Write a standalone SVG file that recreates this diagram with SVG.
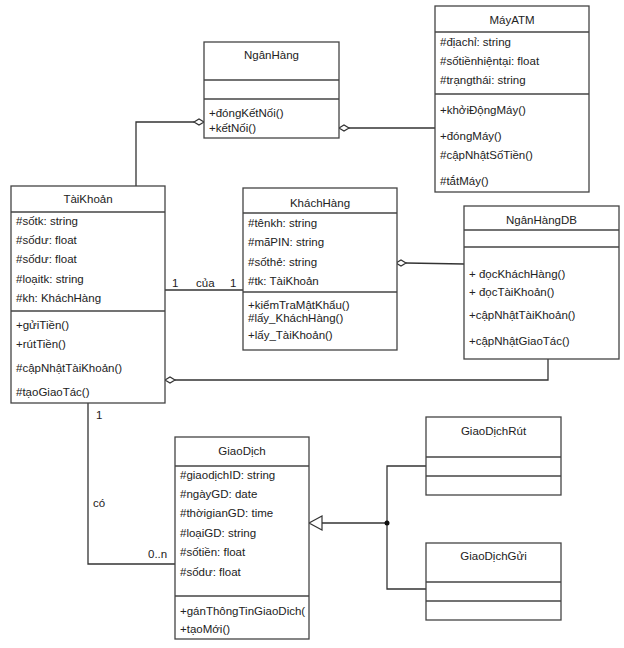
<svg xmlns="http://www.w3.org/2000/svg" width="624" height="648" viewBox="0 0 624 648">
<style>
.box{fill:#fff;stroke:#444;stroke-width:1.3}
.div{stroke:#444;stroke-width:1.3}
.t{font-family:"Liberation Sans",Arial,sans-serif;font-size:11.5px;fill:#222}
.c{text-anchor:middle}
.ln{fill:none;stroke:#333;stroke-width:1.3}
.dia{fill:#fff;stroke:#333;stroke-width:1.2}
</style>
<rect width="624" height="648" fill="#fff"/>
<g id="connectors">
  <polyline class="ln" points="194,122 136,122 136,186"/>
  <polygon class="dia" points="194,122 199,119 204,122 199,125"/>
  <line class="ln" x1="348" y1="128" x2="435" y2="128"/>
  <polygon class="dia" points="339,128 344,125 349,128 344,131"/>
  <line class="ln" x1="165" y1="290" x2="243" y2="290"/>
  <text class="t" x="172" y="287">1</text>
  <text class="t" x="196" y="287">của</text>
  <text class="t" x="230" y="287">1</text>
  <line class="ln" x1="406" y1="263" x2="464" y2="264"/>
  <polygon class="dia" points="396,263 401,260 406,263 401,266"/>
  <polyline class="ln" points="175,380 548,380 548,359"/>
  <polygon class="dia" points="165,380 170,377 175,380 170,383"/>
  <polyline class="ln" points="88,403 88,564 175,564"/>
  <text class="t" x="96" y="419">1</text>
  <text class="t" x="93" y="507">có</text>
  <text class="t" x="148" y="558">0..n</text>
  <line class="ln" x1="322" y1="523" x2="387" y2="523"/>
  <polygon class="dia" points="309,523 322,516 322,530"/>
  <polyline class="ln" points="426,466 387,466 387,589 426,589"/>
  <circle cx="387" cy="523" r="2.5" fill="#111"/>
</g>
<g id="NganHang">
  <rect class="box" x="204" y="42" width="135" height="96"/>
  <line class="div" x1="204" y1="80" x2="339" y2="80"/>
  <line class="div" x1="204" y1="99" x2="339" y2="99"/>
  <text class="t c" x="271.5" y="59">NgânHàng</text>
  <text class="t" x="209" y="117">+đóngKếtNối()</text>
  <text class="t" x="209" y="132">+kếtNối()</text>
</g>
<g id="MayATM">
  <rect class="box" x="435" y="6" width="154" height="186"/>
  <line class="div" x1="435" y1="32" x2="589" y2="32"/>
  <line class="div" x1="435" y1="94" x2="589" y2="94"/>
  <text class="t c" x="512" y="24">MáyATM</text>
  <text class="t" x="440" y="46">#địachỉ: string</text>
  <text class="t" x="440" y="65">#sốtiềnhiệntại: float</text>
  <text class="t" x="440" y="84">#trạngthái: string</text>
  <text class="t" x="440" y="114">+khởiĐộngMáy()</text>
  <text class="t" x="440" y="140">+đóngMáy()</text>
  <text class="t" x="440" y="159">#cậpNhậtSốTiền()</text>
  <text class="t" x="440" y="185">#tắtMáy()</text>
</g>
<g id="TaiKhoan">
  <rect class="box" x="11" y="186" width="154" height="217"/>
  <line class="div" x1="11" y1="212" x2="165" y2="212"/>
  <line class="div" x1="11" y1="311" x2="165" y2="311"/>
  <text class="t c" x="88" y="203">TàiKhoản</text>
  <text class="t" x="16" y="225">#sốtk: string</text>
  <text class="t" x="16" y="244">#sốdư: float</text>
  <text class="t" x="16" y="263">#sốdư: float</text>
  <text class="t" x="16" y="283">#loạitk: string</text>
  <text class="t" x="16" y="302">#kh: KháchHàng</text>
  <text class="t" x="16" y="329">+gửiTiền()</text>
  <text class="t" x="16" y="348">+rútTiền()</text>
  <text class="t" x="16" y="372">#cậpNhậtTàiKhoản()</text>
  <text class="t" x="16" y="396">#tạoGiaoTác()</text>
</g>
<g id="KhachHang">
  <rect class="box" x="243" y="188" width="154" height="162"/>
  <line class="div" x1="243" y1="213" x2="397" y2="213"/>
  <line class="div" x1="243" y1="292" x2="397" y2="292"/>
  <text class="t c" x="320" y="207">KháchHàng</text>
  <text class="t" x="248" y="227">#tênkh: string</text>
  <text class="t" x="248" y="246">#mãPIN: string</text>
  <text class="t" x="248" y="266">#sốthẻ: string</text>
  <text class="t" x="248" y="285">#tk: TàiKhoản</text>
  <text class="t" x="248" y="309">+kiểmTraMậtKhẩu()</text>
  <text class="t" x="248" y="322">#lấy_KháchHàng()</text>
  <text class="t" x="248" y="339">+lấy_TàiKhoản()</text>
</g>
<g id="NganHangDB">
  <rect class="box" x="464" y="206" width="155" height="153"/>
  <line class="div" x1="464" y1="230" x2="619" y2="230"/>
  <line class="div" x1="464" y1="247" x2="619" y2="247"/>
  <text class="t c" x="541.5" y="224">NgânHàngDB</text>
  <text class="t" x="469" y="278">+ đọcKháchHàng()</text>
  <text class="t" x="469" y="296">+ đọcTàiKhoản()</text>
  <text class="t" x="469" y="319">+cậpNhậtTàiKhoản()</text>
  <text class="t" x="469" y="345">+cậpNhậtGiaoTác()</text>
</g>
<g id="GiaoDich">
  <rect class="box" x="175" y="437" width="134" height="202"/>
  <line class="div" x1="175" y1="466" x2="309" y2="466"/>
  <line class="div" x1="175" y1="596" x2="309" y2="596"/>
  <text class="t c" x="242" y="455">GiaoDịch</text>
  <text class="t" x="180" y="479">#giaodịchID: string</text>
  <text class="t" x="180" y="498">#ngàyGD: date</text>
  <text class="t" x="180" y="517">#thờigianGD: time</text>
  <text class="t" x="180" y="537">#loạiGD: string</text>
  <text class="t" x="180" y="556">#sốtiền: float</text>
  <text class="t" x="180" y="576">#sốdư: float</text>
  <text class="t" x="180" y="615">+gánThôngTinGiaoDich(</text>
  <text class="t" x="180" y="633">+tạoMới()</text>
</g>
<g id="GiaoDichRut">
  <rect class="box" x="426" y="417" width="135" height="78"/>
  <line class="div" x1="426" y1="457" x2="561" y2="457"/>
  <line class="div" x1="426" y1="476" x2="561" y2="476"/>
  <text class="t c" x="493.5" y="435">GiaoDịchRút</text>
</g>
<g id="GiaoDichGui">
  <rect class="box" x="426" y="543" width="135" height="77"/>
  <line class="div" x1="426" y1="582" x2="561" y2="582"/>
  <line class="div" x1="426" y1="601" x2="561" y2="601"/>
  <text class="t c" x="493.5" y="560">GiaoDịchGửi</text>
</g>
</svg>
